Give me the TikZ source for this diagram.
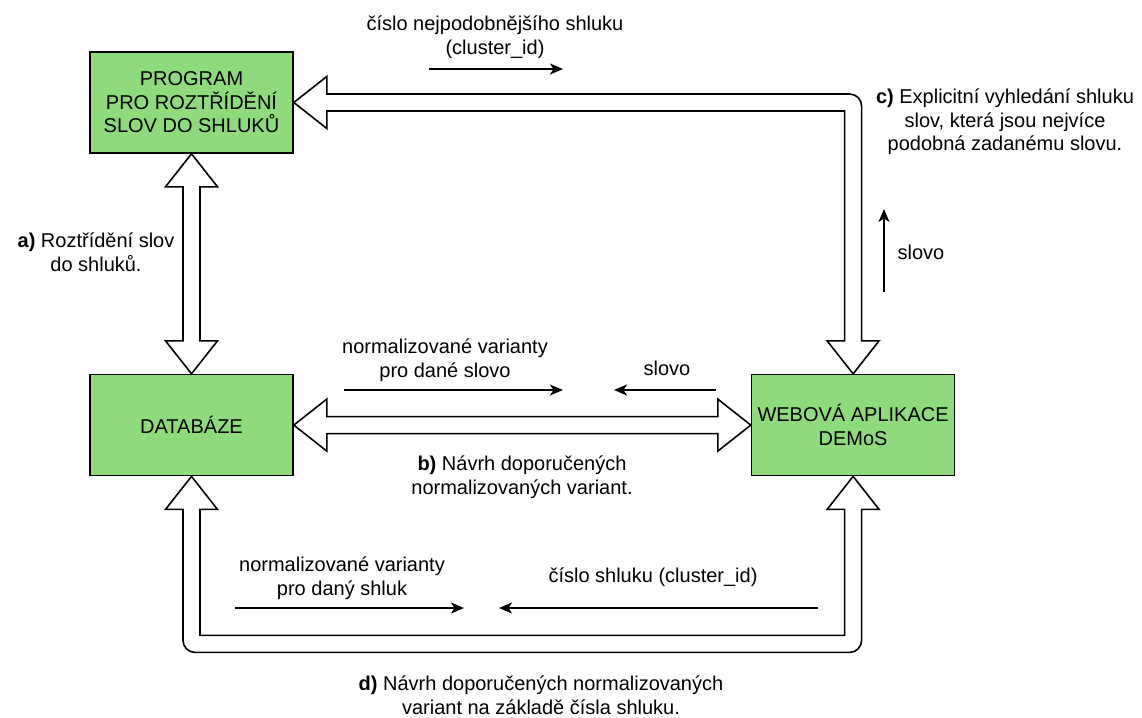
\documentclass[tikz,border=0pt]{standalone}
\usepackage{fontspec}
\setmainfont{Liberation Sans}
\usepackage{xcolor}
\usetikzlibrary{positioning,calc,arrows.meta}
\definecolor{boxgreen}{RGB}{143,218,124}
\tikzset{
    block/.style={draw, line width=1.6pt, fill=boxgreen, minimum width=203pt, minimum height=101pt, inner sep=0pt, align=center},
    flex/.style={draw, line width=1.6pt, fill=white, line join=miter},
    thin/.style={line width=1.6pt, -{Stealth[length=13pt,width=11pt,inset=3.5pt]}},
    lbl/.style={align=center, inner sep=0pt}
}
\begin{document}
\begin{tikzpicture}[x=1pt, y=-1pt, font=\fontsize{20}{23.5}\selectfont]
    \useasboundingbox (0,0) rectangle (1142,717);
    % Boxes
    \node[block] (prog) at (191.5,102.5) {PROGRAM\\PRO ROZTŘÍDĚNÍ\\SLOV DO SHLUKŮ};
    \node[block, below=220pt of prog] (db) {DATABÁZE};
    \node[block, right=457pt of db] (web) {WEBOVÁ APLIKACE\\DEMoS};
    \coordinate (cTR) at ($(prog.east -| web.north)+(8.5,-8.5)$);
    \coordinate (dBL) at ($(db.south)+(-8.5,176)$);
    \coordinate (dBR) at ($(web.south)+(8.5,176)$);
    % a) program <-> databaze
    \draw[flex] (prog.south) -- ++(26,33) -- ++(-17.5,0) -- ($(db.north)+(8.5,-33)$) -- ++(17.5,0) -- (db.north) -- ++(-26,-33) -- ++(17.5,0) -- ($(prog.south)+(-8.5,33)$) -- ++(-17.5,0) -- cycle;
    % b) databaze <-> web
    \draw[flex] (db.east) -- ++(33,-26) -- ++(0,17.5) -- ($(web.west)+(-33,-8.5)$) -- ++(0,-17.5) -- (web.west) -- ++(-33,26) -- ++(0,-17.5) -- ($(db.east)+(33,8.5)$) -- ++(0,17.5) -- cycle;
    % c) web <-> program
    \draw[flex] (prog.east) -- ++(33,-26) -- ++(0,17.5) -- ($(cTR)+(-12,0)$) .. controls ($(cTR)+(-5.4,0)$) and ($(cTR)+(0,5.4)$) .. ($(cTR)+(0,12)$) -- ($(web.north)+(8.5,-33)$) -- ++(17.5,0) -- (web.north) -- ++(-26,-33) -- ++(17.5,0) -- ($(cTR)+(-17,17)$) -- ($(prog.east)+(33,8.5)$) -- ++(0,17.5) -- cycle;
    % d) web <-> databaze
    \draw[flex] (db.south) -- ++(26,33) -- ++(-17.5,0) -- ($(dBL)+(17,-17)$) -- ($(dBR)+(-17,-17)$) -- ($(web.south)+(-8.5,33)$) -- ++(-17.5,0) -- (web.south) -- ++(26,33) -- ++(-17.5,0) -- ($(dBR)+(0,-12)$) .. controls ($(dBR)+(0,-5.4)$) and ($(dBR)+(-5.4,0)$) .. ($(dBR)+(-12,0)$) -- ($(dBL)+(12,0)$) .. controls ($(dBL)+(5.4,0)$) and ($(dBL)+(0,-5.4)$) .. ($(dBL)+(0,-12)$) -- ($(db.south)+(-8.5,33)$) -- ++(-17.5,0) -- cycle;
    % Labels
    \node[lbl] (topTxt) at (495,37) {číslo nejpodobnějšího shluku\\(cluster\_id)};
    \node[lbl] (cTxt) at (1005,122) {\textbf{c)} Explicitní vyhledání shluku\\slov, která jsou nejvíce\\podobná zadanému slovu.};
    \node[lbl] (aTxt) at (96,252) {\textbf{a)} Roztřídění slov\\do shluků.};
    \node[lbl] (wordUp) at (921,252) {slovo};
    \node[lbl] (varWord) at (445,360) {normalizované varianty\\pro dané slovo};
    \node[lbl] (wordLeft) at (667,368) {slovo};
    \node[lbl] (bTxt) at (522,477) {\textbf{b)} Návrh doporučených\\normalizovaných variant.};
    \node[lbl] (varClu) at (342,578) {normalizované varianty\\pro daný shluk};
    \node[lbl] (cluId) at (653,577) {číslo shluku (cluster\_id)};
    \node[lbl] (dTxt) at (541,695) {\textbf{d)} Návrh doporučených normalizovaných\\variant na základě čísla shluku.};
    % Data flow
    \coordinate (f1s) at (429,69);  \coordinate (f1e) at (563,69);
    \coordinate (f2s) at (884,292); \coordinate (f2e) at (884,209);
    \coordinate (f3s) at (344,390); \coordinate (f3e) at (563,390);
    \coordinate (f4s) at (716,390); \coordinate (f4e) at (614,390);
    \coordinate (f5s) at (235,608); \coordinate (f5e) at (464,608);
    \coordinate (f6s) at (818,608); \coordinate (f6e) at (499,608);
    \draw[thin] (f1s) -- (f1e);
    \draw[thin] (f2s) -- (f2e);
    \draw[thin] (f3s) -- (f3e);
    \draw[thin] (f4s) -- (f4e);
    \draw[thin] (f5s) -- (f5e);
    \draw[thin] (f6s) -- (f6e);
\end{tikzpicture}
\end{document}
